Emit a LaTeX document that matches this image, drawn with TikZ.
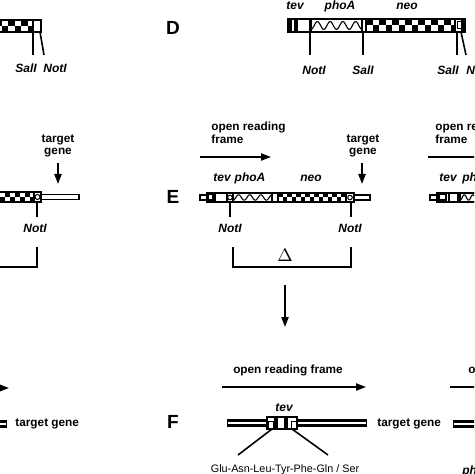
\documentclass[tikz,border=0pt]{standalone}
\usepackage{fontspec}
\setmainfont{Liberation Sans}
\usetikzlibrary{arrows.meta}
\tikzset{
 bar/.style={line width=1pt},
 conn/.style={line width=0.8pt},
 arr/.style={line width=0.8pt,-{Triangle[length=5pt,width=3.6pt]}},
 lab/.style={font=\fontsize{5.9}{6.3}\selectfont\bfseries, inner sep=0pt},
 ilab/.style={font=\fontsize{6}{7}\selectfont\bfseries\itshape, inner sep=0pt},
 seqlab/.style={font=\fontsize{5.4}{6}\selectfont, inner sep=0pt},
 big/.style={font=\fontsize{9.5}{10}\selectfont\bfseries, inner sep=0pt},
}
\newcommand{\chkbar}[5]{%
 \begin{scope}
 \clip (#1,#3) rectangle (#2,#3+#4);
 \pgfmathtruncatemacro{\nsq}{ceil((#2-#1)/(2*#5))}
 \foreach \i in {0,...,\nsq}{
   \fill (#1+2*\i*#5,#3) rectangle ++(#5,#4/2);
   \fill (#1+2*\i*#5+#5,#3+#4/2) rectangle ++(#5,#4/2);
 }
 \end{scope}
 \draw[bar] (#1,#3) rectangle (#2,#3+#4);
}
\newcommand{\wavy}[5]{%
 \draw[line width=0.55pt] plot[domain=0:1,samples=80,smooth] ({#1+\x*(#2-#1)},{#3+#4/2+#4*0.3*cos(\x*#5*360)});
 \draw[bar] (#1,#3) rectangle (#2,#3+#4);
}
\newcommand{\dblrod}[4]{%
 \fill (#1,#3) rectangle (#2,#4);
 \fill[white] (#1+1.2,#3+2.6) rectangle (#2-1.2,#4-2.6);
}
\begin{document}
\begin{tikzpicture}[x=0.5pt,y=-0.5pt]
\useasboundingbox (0,0) rectangle (474,474);
\clip (0,0) rectangle (474,474);

% ================= row D =================
% left partial
\chkbar{-5}{33}{20}{12}{6.5}
\draw[bar,fill=white] (33,20) rectangle (41,32);
\coordinate (a1) at (33,32); \coordinate (a1b) at (33,55);
\coordinate (a2) at (40,32); \coordinate (a2b) at (44,55);
\draw[conn] (a1) -- (a1b);
\draw[conn] (a2) -- (a2b);
\node[ilab] (aS) at (26,68) {SalI};
\node[ilab] (aN) at (55,68) {NotI};

% D construct
\node[big] (D) at (173,28) {D};
\node[ilab] (dtev) at (295,6) {tev};
\node[ilab] (dpho) at (340,6) {phoA};
\node[ilab] (dneo) at (407,6) {neo};
\fill (288,19) rectangle (292,32);
\fill (294,19) rectangle (297,32);
\draw[bar] (297,19) rectangle (310,32);
\wavy{311}{362}{19}{13}{4}
\draw[bar,fill=white] (362,19) rectangle (366,32);
\chkbar{366}{455}{19}{13}{6.5}
\draw[bar,fill=white] (455,19) rectangle (462,32);
\draw[line width=0.5pt] (457,22) rectangle (461,29);
\fill (462,19) rectangle (465,32);
\draw[bar] (288,19) rectangle (465,32);
\coordinate (d1) at (310,32); \coordinate (d1b) at (310,55);
\coordinate (d2) at (363,32); \coordinate (d2b) at (363,55);
\coordinate (d3) at (457,32); \coordinate (d3b) at (457,55);
\coordinate (d4) at (461,32); \coordinate (d4b) at (466,55);
\draw[conn] (d1) -- (d1b);
\draw[conn] (d2) -- (d2b);
\draw[conn] (d3) -- (d3b);
\draw[conn] (d4) -- (d4b);
\node[ilab] (dN1) at (314,70) {NotI};
\node[ilab] (dS1) at (363,70) {SalI};
\node[ilab] (dS2) at (448,70) {SalI};
\node[ilab,anchor=west] (dN2) at (466,70) {NotI};

% ================= row E =================
% left partial
\node[lab,align=center] (bt) at (58,146) {target\\gene};
\coordinate (bta) at (58,163); \coordinate (btb) at (58,184);
\draw[arr] (bta) -- (btb);
\chkbar{-5}{34}{192}{10}{5}
\draw[bar,fill=white] (34,192) rectangle (41,202);
\draw[line width=0.5pt] (37.5,197) circle (2.5);
\draw[line width=0.6pt,fill=white] (41,194.5) rectangle (79,199.5);
\coordinate (b1) at (37,202); \coordinate (b1b) at (37,217);
\draw[conn] (b1) -- (b1b);
\node[ilab] (bN) at (35,228) {NotI};
\coordinate (bk1) at (37,247); \coordinate (bk2) at (37,267); \coordinate (bk3) at (-5,267);
\draw[conn] (bk1) -- (bk2) -- (bk3);

% E construct
\node[lab,align=left,anchor=west] (eorf) at (211,132.5) {open reading\\frame};
\coordinate (eo1) at (200,157); \coordinate (eo2) at (271,157);
\draw[arr] (eo1) -- (eo2);
\node[big] (E) at (173,197) {E};
\node[ilab] (etev) at (222,178) {tev};
\node[ilab] (epho) at (250,178) {phoA};
\node[ilab] (eneo) at (311,178) {neo};
\draw[line width=0.6pt,fill=white] (200,195) rectangle (207,200);
\fill (207,193) rectangle (214,202);
\fill[white] (209,195.5) rectangle (212,199.5);
\draw[bar] (215,193) rectangle (227,202);
\draw[line width=0.5pt] (230,197.5) circle (2.3);
\wavy{233}{272}{193}{9}{3.5}
\draw[bar] (272,193) rectangle (278,202);
\chkbar{278}{346}{193}{9}{4.5}
\draw[bar,fill=white] (346,193) rectangle (354,202);
\draw[line width=0.5pt] (350,197.5) circle (2.3);
\draw[bar] (207,193) rectangle (354,202);
\draw[line width=0.6pt,fill=white] (354,195) rectangle (370,200);
\coordinate (e1) at (230,202); \coordinate (e1b) at (230,217);
\coordinate (e2) at (351,202); \coordinate (e2b) at (351,217);
\draw[conn] (e1) -- (e1b);
\draw[conn] (e2) -- (e2b);
\node[ilab] (eN1) at (230,228) {NotI};
\node[ilab] (eN2) at (350,228) {NotI};
\node[lab,align=center] (et) at (363,146) {target\\gene};
\coordinate (eta) at (362,163); \coordinate (etb) at (362,184);
\draw[arr] (eta) -- (etb);
\coordinate (ek1) at (233,247); \coordinate (ek2) at (233,267);
\coordinate (ek3) at (351,267); \coordinate (ek4) at (351,247);
\draw[conn] (ek1) -- (ek2) -- (ek3) -- (ek4);
\node[inner sep=0pt,font=\fontsize{9.5}{10}\selectfont] (delta) at (285,255) {$\Delta$};
\coordinate (ed1) at (285,285); \coordinate (ed2) at (285,327);
\draw[arr] (ed1) -- (ed2);

% right partial
\node[lab,align=left,anchor=west] (corf) at (435,132.5) {open reading\\frame};
\coordinate (co1) at (428,157); \coordinate (co2) at (480,157);
\draw[line width=0.8pt] (co1) -- (co2);
\node[ilab] (ctev) at (448,178) {tev};
\node[ilab,anchor=west] (cpho) at (462,178) {phoA};
\draw[line width=0.6pt,fill=white] (430,195) rectangle (437,200);
\fill (437,193) rectangle (447,202);
\fill[white] (440,195.5) rectangle (445,199.5);
\draw[bar] (449,193) rectangle (458,202);
\wavy{460}{490}{193}{9}{3.5}
\draw[bar] (437,193) rectangle (490,202);

% ================= row F =================
% left partial
\coordinate (fa1) at (-10,388); \coordinate (fa2) at (9,388);
\draw[arr] (fa1) -- (fa2);
\dblrod{-5}{7}{420}{428}
\node[lab,anchor=west] (ftg0) at (15,424) {target gene};

% F construct
\node[lab] (forf) at (288,370) {open reading frame};
\coordinate (fo1) at (222,387); \coordinate (fo2) at (366,387);
\draw[arr] (fo1) -- (fo2);
\node[big] (F) at (173,422) {F};
\dblrod{227}{367}{419}{427}
\draw[bar,fill=white] (267,416.5) rectangle (297,429);
\fill (274,416.5) rectangle (277.5,429);
\fill (284,416.5) rectangle (288,429);
\draw[line width=0.5pt] (268.5,421) rectangle (273,428);
\draw[line width=0.5pt] (291,421) rectangle (296,428);
\node[ilab] (ftev) at (284,408) {tev};
\coordinate (fl1) at (272,429); \coordinate (fl1b) at (238,455);
\coordinate (fl2) at (292,429); \coordinate (fl2b) at (328,455);
\draw[conn] (fl1) -- (fl1b);
\draw[conn] (fl2) -- (fl2b);
\node[seqlab] (fseq) at (285,470) {Glu-Asn-Leu-Tyr-Phe-Gln / Ser};
\node[lab,anchor=west] (ftg) at (377,424) {target gene};

% right partial
\node[lab,anchor=west] (gorf) at (468,370) {open reading frame};
\coordinate (go1) at (450,387); \coordinate (go2) at (480,387);
\draw[line width=0.8pt] (go1) -- (go2);
\dblrod{453}{485}{420}{428}
\node[ilab,anchor=west] (gpho) at (462,471) {phoA};
\end{tikzpicture}
\end{document}
